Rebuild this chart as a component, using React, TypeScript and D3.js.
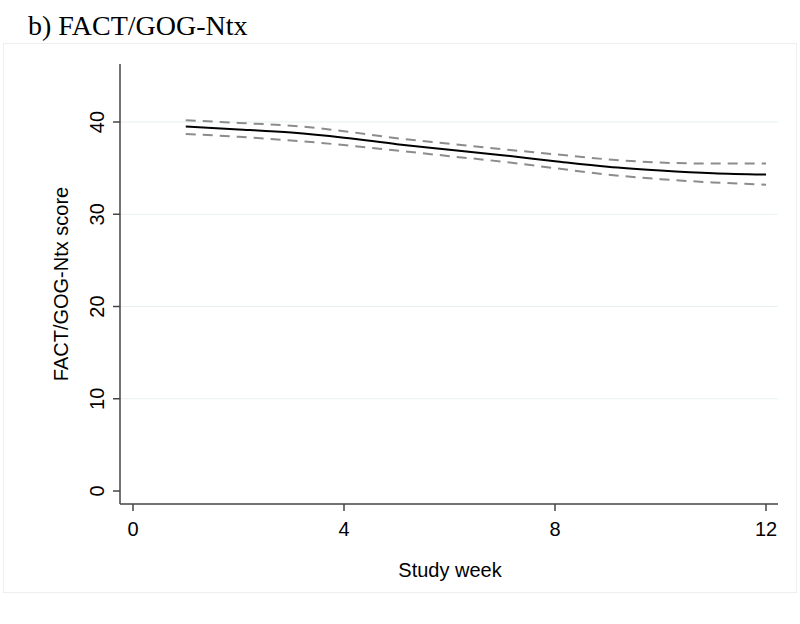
import React from "react";
import * as d3 from "d3";

const weeks = [1, 2, 3, 4, 5, 6, 7, 8, 9, 10, 11, 12];
const meanScore = [39.5, 39.2, 38.85, 38.3, 37.6, 37.0, 36.4, 35.75, 35.15, 34.75, 34.45, 34.3];
const upperCI = [40.2, 39.9, 39.6, 39.0, 38.25, 37.65, 37.05, 36.5, 35.95, 35.6, 35.5, 35.5];
const lowerCI = [38.7, 38.4, 38.0, 37.5, 36.9, 36.3, 35.7, 35.0, 34.3, 33.8, 33.45, 33.2];
const xTicks = [0, 4, 8, 12];
const yTicks = [0, 10, 20, 30, 40];
const gridTicks = [10, 20, 30, 40];

const W = 800;
const H = 624;
const left = 120;
const right = 778;
const top = 64;
const bottom = 504;

export default function App() {
  const x = d3.scaleLinear().domain([0, 12]).range([133, 766]);
  const y = d3.scaleLinear().domain([0, 40]).range([491, 122]);

  const mk = (vals: number[]) =>
    d3
      .line<number>()
      .x((_, i) => x(weeks[i]))
      .y((d) => y(d))
      .curve(d3.curveMonotoneX)(vals) || "";

  const sans = "'Liberation Sans', Arial, sans-serif";
  const axisColor = "#444";

  return (
    <svg
      width={W}
      height={H}
      style={{ position: "absolute", left: 0, top: 0, background: "#fff" }}
    >
      <rect x={0} y={0} width={W} height={H} fill="#fff" />
      <rect x={3.5} y={43.5} width={793} height={549} fill="none" stroke="#eeeeee" strokeWidth={1} />
      <text
        x={28}
        y={35}
        fontFamily="'Liberation Serif', 'Times New Roman', serif"
        fontSize={28}
        fill="#000"
      >
        b) FACT/GOG-Ntx
      </text>

      {gridTicks.map((t) => (
        <line key={"g" + t} x1={left} x2={right} y1={y(t)} y2={y(t)} stroke="#e6f0f1" strokeWidth={1.2} />
      ))}

      {/* axes */}
      <line x1={left} x2={left} y1={top} y2={bottom} stroke={axisColor} strokeWidth={1.5} />
      <line x1={left} x2={right} y1={bottom} y2={bottom} stroke={axisColor} strokeWidth={1.5} />

      {yTicks.map((t) => (
        <g key={"y" + t}>
          <line x1={left - 7} x2={left} y1={y(t)} y2={y(t)} stroke={axisColor} strokeWidth={1.5} />
          <text
            transform={`translate(${left - 16},${y(t)}) rotate(-90)`}
            textAnchor="middle"
            fontFamily={sans}
            fontSize={20}
            fill="#000"
          >
            {t}
          </text>
        </g>
      ))}

      {xTicks.map((t) => (
        <g key={"x" + t}>
          <line x1={x(t)} x2={x(t)} y1={bottom} y2={bottom + 7} stroke={axisColor} strokeWidth={1.5} />
          <text x={x(t)} y={536} textAnchor="middle" fontFamily={sans} fontSize={20} fill="#000">
            {t}
          </text>
        </g>
      ))}

      <text x={450} y={577} textAnchor="middle" fontFamily={sans} fontSize={20} fill="#000">
        Study week
      </text>
      <text
        transform={`translate(68,${(top + bottom) / 2}) rotate(-90)`}
        textAnchor="middle"
        fontFamily={sans}
        fontSize={20}
        fill="#000"
      >
        FACT/GOG-Ntx score
      </text>

      <path d={mk(upperCI)} fill="none" stroke="#8c8c8c" strokeWidth={2} strokeDasharray="10,7" />
      <path d={mk(lowerCI)} fill="none" stroke="#8c8c8c" strokeWidth={2} strokeDasharray="10,7" />
      <path d={mk(meanScore)} fill="none" stroke="#000" strokeWidth={2} />
    </svg>
  );
}
